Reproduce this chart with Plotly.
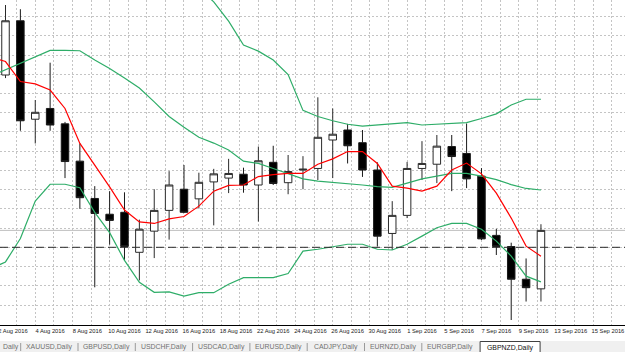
import plotly.graph_objects as go

# ---------------- data (GBPNZD, Daily) ----------------
bars = list(range(-1, 37))

opens = [1.8590, 1.8548, 1.8689, 1.8433, 1.8461, 1.8421, 1.8324, 1.8227, 1.8186, 1.8191,
         1.8087, 1.8142, 1.8196, 1.8251, 1.8226, 1.8270, 1.8280, 1.8290, 1.8262, 1.8321,
         1.8268, 1.8301, 1.8305, 1.8379, 1.8405, 1.8372, 1.8301, 1.8136, 1.8183, 1.8305,
         1.8316, 1.8362, 1.8344, 1.8285, 1.8131, 1.8102, 1.8017, 1.7992]
highs = [1.8612, 1.8730, 1.8719, 1.8483, 1.8580, 1.8426, 1.8370, 1.8259, 1.8246, 1.8243,
         1.8172, 1.8251, 1.8298, 1.8314, 1.8294, 1.8304, 1.8330, 1.8307, 1.8362, 1.8364,
         1.8340, 1.8337, 1.8490, 1.8461, 1.8421, 1.8405, 1.8321, 1.8220, 1.8322, 1.8376,
         1.8392, 1.8392, 1.8422, 1.8306, 1.8148, 1.8112, 1.8071, 1.8160]
lows = [1.8530, 1.8540, 1.8403, 1.8370, 1.8403, 1.8280, 1.8200, 1.7996, 1.8107, 1.8066,
        1.8014, 1.8072, 1.8120, 1.8189, 1.8201, 1.8157, 1.8241, 1.8242, 1.8167, 1.8262,
        1.8238, 1.8251, 1.8275, 1.8280, 1.8318, 1.8283, 1.8102, 1.8093, 1.8176, 1.8275,
        1.8267, 1.8246, 1.8254, 1.8119, 1.8080, 1.7911, 1.7959, 1.7959]
closes = [1.8548, 1.8689, 1.8429, 1.8451, 1.8418, 1.8323, 1.8229, 1.8188, 1.8170, 1.8102,
          1.8147, 1.8196, 1.8262, 1.8191, 1.8269, 1.8291, 1.8292, 1.8262, 1.8325, 1.8266,
          1.8297, 1.8303, 1.8386, 1.8394, 1.8364, 1.8301, 1.8129, 1.8183, 1.8305, 1.8318,
          1.8363, 1.8336, 1.8278, 1.8122, 1.8102, 1.8017, 1.7995, 1.8144]

ma_red = [1.8595, 1.8583, 1.8531, 1.8525, 1.8509, 1.8461, 1.8370, 1.8315, 1.8257, 1.8197,
          1.8166, 1.8162, 1.8174, 1.8180, 1.8207, 1.8246, 1.8261, 1.8262, 1.8284, 1.8289,
          1.8292, 1.8292, 1.8316, 1.8330, 1.8349, 1.8349, 1.8318, 1.8259, 1.8254, 1.8246,
          1.8259, 1.8301, 1.8319, 1.8291, 1.8241, 1.8176, 1.8103, 1.8077]

bb_upper = [1.9047, 1.9063, 1.9036, 1.8972, 1.8960, 1.8960, 1.8967, 1.8986, 1.8993, 1.9015,
            1.9020, 1.8978, 1.8894, 1.8850, 1.8775, 1.8738, 1.8688, 1.8626, 1.8610, 1.8587,
            1.8549, 1.8456, 1.8440, 1.8429, 1.8420, 1.8415, 1.8418, 1.8422, 1.8424, 1.8418,
            1.8420, 1.8422, 1.8424, 1.8435, 1.8447, 1.8470, 1.8485, 1.8485]
bb_mid = [1.8545, 1.8562, 1.8579, 1.8596, 1.8612, 1.8612, 1.8611, 1.8587, 1.8565, 1.8540,
          1.8514, 1.8478, 1.8440, 1.8412, 1.8386, 1.8371, 1.8353, 1.8324, 1.8318, 1.8305,
          1.8292, 1.8278, 1.8272, 1.8269, 1.8266, 1.8262, 1.8258, 1.8256, 1.8267, 1.8278,
          1.8285, 1.8292, 1.8292, 1.8285, 1.8276, 1.8263, 1.8253, 1.8249]
bb_lower = [1.8044, 1.8062, 1.8123, 1.8220, 1.8264, 1.8264, 1.8255, 1.8191, 1.8138, 1.8066,
            1.8009, 1.7983, 1.7984, 1.7973, 1.7982, 1.7982, 1.8004, 1.8021, 1.8021, 1.8021,
            1.8032, 1.8090, 1.8095, 1.8102, 1.8108, 1.8108, 1.8095, 1.8093, 1.8108, 1.8129,
            1.8151, 1.8162, 1.8162, 1.8147, 1.8116, 1.8077, 1.8025, 1.8010]

hline_level = 1.8100

tick_labels = ["2 Aug 2016", "4 Aug 2016", "8 Aug 2016", "10 Aug 2016", "12 Aug 2016",
               "16 Aug 2016", "18 Aug 2016", "22 Aug 2016", "24 Aug 2016", "26 Aug 2016",
               "30 Aug 2016", "1 Sep 2016", "5 Sep 2016", "7 Sep 2016", "9 Sep 2016",
               "13 Sep 2016", "15 Sep 2016"]

tabs = ["XAUUSD,Daily", "GBPUSD,Daily", "USDCHF,Daily", "USDCAD,Daily",
        "EURUSD,Daily", "CADJPY,Daily", "EURNZD,Daily", "EURGBP,Daily"]
active_tab = "GBPNZD,Daily"

# ---------------- layout helpers ----------------
W, H = 625, 352
PLOT_BOTTOM = 325
FONT = "Liberation Sans, Arial, sans-serif"


def pxx(x):
    return x / W


def pxy(y):
    return (PLOT_BOTTOM - y) / PLOT_BOTTOM


GREEN = "#2EAD68"
GRID = "#C4C4C4"

fig = go.Figure()

fig.add_trace(go.Candlestick(
    x=bars, open=opens, high=highs, low=lows, close=closes,
    increasing=dict(fillcolor="#FFFFFF", line=dict(color="#2A2A2A", width=1)),
    decreasing=dict(fillcolor="#000000", line=dict(color="#1A1A1A", width=1)),
    whiskerwidth=0, hoverinfo="skip", showlegend=False,
))

for series, color in [(bb_upper, GREEN), (bb_mid, GREEN), (bb_lower, GREEN), (ma_red, "#FF0000")]:
    fig.add_trace(go.Scatter(x=bars, y=series, mode="lines",
                             line=dict(color=color, width=1.2),
                             hoverinfo="skip", showlegend=False))

label_step = 2.5
tick_pos = [3 + label_step * k for k in range(-1, len(tick_labels) - 1)]

shapes = [
    # bid line (last close)
    dict(type="line", xref="paper", x0=0, x1=1, yref="y", y0=closes[-1], y1=closes[-1],
         line=dict(color="#BFBFBF", width=1), layer="below"),
    # horizontal dashed level
    dict(type="line", xref="paper", x0=0, x1=1, yref="y", y0=hline_level, y1=hline_level,
         line=dict(color="#2A2A2A", width=1, dash="8px,4px"), layer="above"),
    # tab strip
    dict(type="rect", xref="paper", yref="paper", x0=0, x1=1, y0=pxy(341), y1=pxy(353),
         fillcolor="#F0F0F0", line=dict(width=0), layer="above"),
]

TAB_FONT = 6.9
annotations = []
# partially hidden first tab
annotations.append(dict(xref="paper", yref="paper", x=pxx(0.5), y=pxy(347), text="Daily",
                        showarrow=False, xanchor="left", yanchor="middle",
                        font=dict(family=FONT, size=TAB_FONT, color="#707070")))
tab_pitch = 57.3
first_sep = 20.7
for i, name in enumerate(tabs):
    sep = first_sep + tab_pitch * i
    shapes.append(dict(type="line", xref="paper", yref="paper", x0=pxx(sep), x1=pxx(sep),
                       y0=pxy(343), y1=pxy(351), line=dict(color="#9A9A9A", width=1), layer="above"))
    annotations.append(dict(xref="paper", yref="paper", x=pxx(sep + tab_pitch / 2), y=pxy(347),
                            text=name, showarrow=False, xanchor="center", yanchor="middle",
                            font=dict(family=FONT, size=TAB_FONT, color="#707070")))
act_x0 = first_sep + tab_pitch * len(tabs)
shapes.append(dict(type="rect", xref="paper", yref="paper", x0=pxx(act_x0 + 1), x1=pxx(act_x0 + 61),
                   y0=pxy(341.5), y1=pxy(353), fillcolor="#FFFFFF",
                   line=dict(color="#404040", width=1), layer="above"))
annotations.append(dict(xref="paper", yref="paper", x=pxx(act_x0 + 31), y=pxy(347.5),
                        text=active_tab, showarrow=False, xanchor="center", yanchor="middle",
                        font=dict(family=FONT, size=TAB_FONT, color="#111111")))

fig.update_layout(
    width=W, height=H,
    margin=dict(l=0, r=0, t=0, b=H - PLOT_BOTTOM, pad=0, autoexpand=False),
    paper_bgcolor="#FFFFFF", plot_bgcolor="#FFFFFF",
    showlegend=False, boxgap=0.28, hovermode=False,
    shapes=shapes, annotations=annotations,
    xaxis=dict(
        range=[-0.37, 41.65], rangeslider=dict(visible=False),
        tickmode="array", tickvals=tick_pos, ticktext=tick_labels,
        tickangle=0, automargin=False,
        ticks="", showgrid=False, zeroline=False,
        showline=True, linecolor="#000000", linewidth=1,
        tickfont=dict(family=FONT, size=5.8, color="#1A1A1A"),
        ticklabeloverflow="allow",
        minor=dict(tickmode="linear", tick0=2, dtick=1.25, showgrid=True,
                   gridcolor=GRID, griddash="2px,2px", gridwidth=1, ticks=""),
        fixedrange=True,
    ),
    yaxis=dict(
        range=[1.7898, 1.8743], tickmode="linear", tick0=1.87, dtick=0.005,
        showticklabels=False, ticks="", showgrid=True, gridcolor=GRID,
        griddash="2px,2px", gridwidth=1, zeroline=False, showline=False,
        automargin=False, fixedrange=True,
    ),
)

fig.write_html("out.html")
